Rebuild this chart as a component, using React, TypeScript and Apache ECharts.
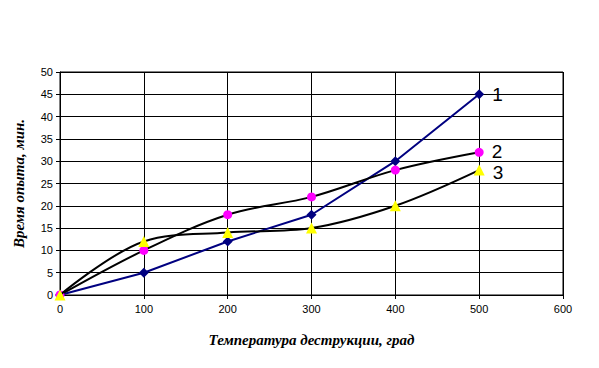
import React, { useEffect, useRef } from "react";
import * as echarts from "echarts";

const xValues = [0, 100, 200, 300, 400, 500];
const series1 = [0, 5, 12, 18, 30, 45];
const series2 = [0, 10, 18, 22, 28, 32];
const series3 = [0, 12, 14, 15, 20, 28];
const seriesNames = ["1", "2", "3"];

const toPairs = (ys: number[]) => xValues.map((x, i) => [x, ys[i]]);

function withEndLabel(ys: number[], name: string, offsetY: number) {
  const pts = toPairs(ys);
  return pts.map((p, i) =>
    i === pts.length - 1
      ? {
          value: p,
          label: {
            show: true,
            formatter: name,
            position: "right",
            distance: 8,
            offset: [0, offsetY],
            fontFamily: "Arial, Liberation Sans, sans-serif",
            fontSize: 19,
            lineHeight: 15,
            color: "#000",
          },
        }
      : { value: p }
  );
}

export default function App() {
  const ref = useRef<HTMLDivElement>(null);
  useEffect(() => {
    const chart = echarts.init(ref.current!, undefined, { renderer: "svg" });
    chart.setOption({
      animation: false,
      backgroundColor: "#fff",
      grid: { left: 60, right: 36, top: 72, bottom: 73, show: true, borderColor: "#000", borderWidth: 1 },
      xAxis: {
        type: "value",
        min: 0,
        max: 600,
        interval: 100,
        name: "Температура деструкции, град",
        nameLocation: "middle",
        nameGap: 37,
        nameTextStyle: {
          fontFamily: "Liberation Serif, Times New Roman, serif",
          fontStyle: "italic",
          fontWeight: "bold",
          fontSize: 15,
          color: "#000",
        },
        axisLine: { lineStyle: { color: "#000" } },
        axisTick: { show: true, length: 4, lineStyle: { color: "#000" } },
        axisLabel: { color: "#000", fontSize: 11, fontFamily: "Arial, Liberation Sans, sans-serif", margin: 8 },
        splitLine: { show: true, lineStyle: { color: "#000", width: 1 } },
      },
      yAxis: {
        type: "value",
        min: 0,
        max: 50,
        interval: 5,
        name: "Время опыта, мин.",
        nameLocation: "middle",
        nameGap: 34,
        nameRotate: 90,
        nameTextStyle: {
          fontFamily: "Liberation Serif, Times New Roman, serif",
          fontStyle: "italic",
          fontWeight: "bold",
          fontSize: 15,
          color: "#000",
        },
        axisLine: { show: true, lineStyle: { color: "#000" } },
        axisTick: { show: true, length: 4, lineStyle: { color: "#000" } },
        axisLabel: { color: "#000", fontSize: 11, fontFamily: "Arial, Liberation Sans, sans-serif", margin: 7 },
        splitLine: { show: true, lineStyle: { color: "#000", width: 1 } },
      },
      series: [
        {
          name: seriesNames[0],
          type: "line",
          data: withEndLabel(series1, seriesNames[0], 0),
          smooth: false,
          symbol: "diamond",
          symbolSize: 10,
          lineStyle: { color: "#000080", width: 2 },
          itemStyle: { color: "#000080" },
          z: 3,
        },
        {
          name: seriesNames[1],
          type: "line",
          data: withEndLabel(series2, seriesNames[1], -1),
          smooth: 0.35,
          symbol: "circle",
          symbolSize: 9,
          lineStyle: { color: "#000", width: 2 },
          itemStyle: { color: "#ff00ff" },
          z: 4,
        },
        {
          name: seriesNames[2],
          type: "line",
          data: withEndLabel(series3, seriesNames[2], 2),
          smooth: 0.35,
          symbol: "triangle",
          symbolSize: 11,
          lineStyle: { color: "#000", width: 2 },
          itemStyle: { color: "#ffff00" },
          z: 5,
        },
      ],
    });
    return () => chart.dispose();
  }, []);
  return <div ref={ref} style={{ width: 599, height: 368, position: "absolute", left: 0, top: 0 }} />;
}
